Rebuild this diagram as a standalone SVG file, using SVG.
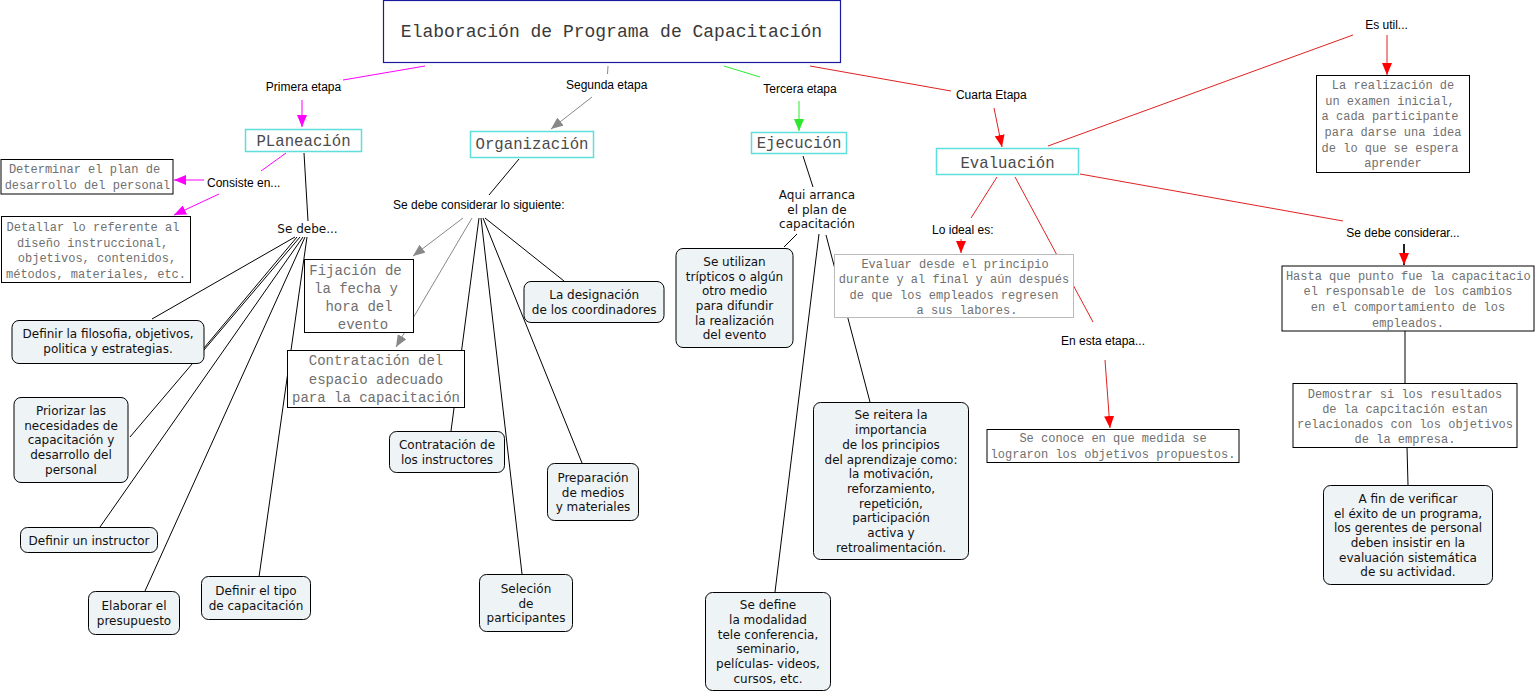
<svg xmlns="http://www.w3.org/2000/svg" width="1537" height="696" viewBox="0 0 1537 696">
<style>
.lbl{font-family:"Liberation Sans",Arial,sans-serif;font-size:12px;fill:#000;text-anchor:middle}
.v{font-family:"DejaVu Sans",Verdana,sans-serif;font-size:12px;fill:#111;text-anchor:middle}
.m{font-family:"Liberation Mono","Courier New",monospace;font-size:12px;fill:#707070;text-anchor:middle}
.m14{font-family:"Liberation Mono","Courier New",monospace;font-size:14px;fill:#707070;text-anchor:middle}
.mh{font-family:"Liberation Mono","Courier New",monospace;font-size:15.7px;fill:#4a4a4a;text-anchor:middle}
.rb{fill:#eef3f6;stroke:#000;stroke-width:1}
.sb{fill:#fff;stroke:#000;stroke-width:1}
.gb{fill:#fff;stroke:#bbb;stroke-width:1}
.cb{fill:#fff;stroke:#5fdede;stroke-width:1.5}
.k{stroke:#000;stroke-width:1;fill:none}
.mg{stroke:#f0f;stroke-width:1;fill:none}
.gr{stroke:#888;stroke-width:1;fill:none}
.gn{stroke:#2ee82e;stroke-width:1;fill:none}
.rd{stroke:#e02020;stroke-width:1;fill:none}
</style>
<defs>
<marker id="am" viewBox="0 0 12 10" refX="12" refY="5" markerWidth="12" markerHeight="10" markerUnits="userSpaceOnUse" orient="auto"><path d="M0,0 L12,5 L0,10 z" fill="#f0f"/></marker>
<marker id="ag" viewBox="0 0 12 10" refX="12" refY="5" markerWidth="12" markerHeight="10" markerUnits="userSpaceOnUse" orient="auto"><path d="M0,0 L12,5 L0,10 z" fill="#888"/></marker>
<marker id="an" viewBox="0 0 12 10" refX="12" refY="5" markerWidth="12" markerHeight="10" markerUnits="userSpaceOnUse" orient="auto"><path d="M0,0 L12,5 L0,10 z" fill="#2ee82e"/></marker>
<marker id="ar" viewBox="0 0 12 10" refX="12" refY="5" markerWidth="12" markerHeight="10" markerUnits="userSpaceOnUse" orient="auto"><path d="M0,0 L12,5 L0,10 z" fill="#f00"/></marker>
</defs>

<g id="connectors">
<path class="mg" d="M425,66 L343,80"/>
<path class="mg" d="M302,100 L302,127" marker-end="url(#am)"/>
<path class="gr" d="M608,66 L607.5,74"/>
<path class="gr" d="M592,97 L551,129" marker-end="url(#ag)"/>
<path class="gn" d="M724,66 L760,77"/>
<path class="gn" d="M799,101 L799,131" marker-end="url(#an)"/>
<path class="rd" d="M810,66 L951,91"/>
<path class="rd" d="M994,108 L1002,147" marker-end="url(#ar)"/>

<path class="mg" d="M286,153 L261,171"/>
<path class="mg" d="M204,180 L174,180" marker-end="url(#am)"/>
<path class="mg" d="M219,194 L174,215" marker-end="url(#am)"/>
<path class="k" d="M304,153 L308,221"/>
<path class="k" d="M295,237 L152,319"/>
<path class="k" d="M297,237 L204,348"/>
<path class="k" d="M300,237 L130,437"/>
<path class="k" d="M303,237 L100,527"/>
<path class="k" d="M305,237 L145,591"/>
<path class="k" d="M307,237 L259,577"/>

<path class="k" d="M519,159 L489,195"/>
<path class="gr" d="M463,218 L413,256" marker-end="url(#ag)"/>
<path class="gr" d="M472,218 L396,347" marker-end="url(#ag)"/>
<path class="k" d="M479,218 L451,431"/>
<path class="k" d="M481,218 L522,574"/>
<path class="k" d="M483,218 L582,463"/>
<path class="k" d="M485,218 L564,281"/>

<path class="k" d="M803,156 L813,187"/>
<path class="k" d="M797,234 L784,247"/>
<path class="k" d="M819,234 L775,592"/>
<path class="k" d="M826,235 L870,402"/>

<path class="rd" d="M997,177 L971,218"/>
<path class="rd" d="M961,239 L961,253" marker-end="url(#ar)"/>
<path class="rd" d="M1015,177 L1093,322"/>
<path class="rd" d="M1105,360 L1110,428" marker-end="url(#ar)"/>
<path class="rd" d="M1048,146 L1353,35"/>
<path class="rd" d="M1387,35 L1387,75" marker-end="url(#ar)"/>
<path class="rd" d="M1080,174 L1343,221"/>
<path d="M1404,244 L1404,265" stroke="#222" stroke-width="2" fill="none" marker-end="url(#ar)"/>
<path class="k" d="M1405,331 L1405,383"/>
<path class="k" d="M1407,447 L1408,485"/>
</g>

<g id="title"><rect x="383.5" y="0.5" width="457" height="62" fill="#fff" stroke="#1a1a9e" stroke-width="1.2"/>
<text x="611.5" y="37" style="font-family:'Liberation Mono','Courier New',monospace;font-size:18px;fill:#3a3a3a;text-anchor:middle">Elaboración de Programa de Capacitación</text></g>

<g id="lbl-primera"><text class="lbl" x="303.5" y="91">Primera etapa</text></g>
<g id="lbl-segunda"><text class="lbl" x="606.7" y="89">Segunda etapa</text></g>
<g id="lbl-tercera"><text class="lbl" x="800" y="93">Tercera etapa</text></g>
<g id="lbl-cuarta"><text class="lbl" x="991.3" y="99">Cuarta Etapa</text></g>

<g id="planeacion"><rect class="cb" x="245.5" y="129.5" width="116" height="22"/><text class="mh" x="303.5" y="146">PLaneación</text></g>
<g id="organizacion"><rect class="cb" x="470.5" y="131.5" width="123" height="26"/><text class="mh" x="532" y="148.5">Organización</text></g>
<g id="ejecucion"><rect class="cb" x="751.5" y="132.5" width="95" height="21"/><text class="mh" x="799" y="148">Ejecución</text></g>
<g id="evaluacion"><rect class="cb" x="936.5" y="148.5" width="142" height="26"/><text class="mh" x="1007.5" y="167.5">Evaluación</text></g>

<g id="lbl-consiste"><text class="lbl" x="243.7" y="187">Consiste en...</text></g>
<g id="determinar"><rect class="sb" x="1" y="159.5" width="172" height="34.5"/>
<text class="m" x="84.5" y="173">Determinar el plan de</text><text class="m" x="87.5" y="188.5">desarrollo del personal</text></g>
<g id="detallar"><rect class="sb" x="1.5" y="216.5" width="189" height="66"/>
<text class="m" x="93" y="231">Detallar lo referente al</text><text class="m" x="92.5" y="246.5">diseño instruccional,</text><text class="m" x="97" y="262">objetivos, contenidos,</text><text class="m" x="96" y="277.5">métodos, materiales, etc.</text></g>
<g id="lbl-sedebe"><text class="v" x="307.5" y="232.5">Se debe...</text></g>

<g id="filosofia"><rect class="rb" x="12" y="320.5" width="192" height="43" rx="7"/>
<text class="v" x="108" y="338">Definir la filosofia, objetivos,</text><text class="v" x="108" y="353">politica y estrategias.</text></g>
<g id="priorizar"><rect class="rb" x="14" y="397.5" width="114" height="85" rx="7"/>
<text class="v" x="71" y="415">Priorizar las</text><text class="v" x="71" y="429.7">necesidades de</text><text class="v" x="71" y="444.4">capacitación y</text><text class="v" x="71" y="459.1">desarrollo del</text><text class="v" x="71" y="473.8">personal</text></g>
<g id="instructor"><rect class="rb" x="20.5" y="527.5" width="137" height="25" rx="7"/><text class="v" x="89" y="544.5">Definir un instructor</text></g>
<g id="presupuesto"><rect class="rb" x="88.5" y="591.5" width="91" height="43" rx="7"/>
<text class="v" x="134" y="610">Elaborar el</text><text class="v" x="134" y="624.7">presupuesto</text></g>
<g id="tipo"><rect class="rb" x="201.5" y="576.5" width="109" height="43" rx="7"/>
<text class="v" x="256" y="595">Definir el tipo</text><text class="v" x="256" y="609.7">de capacitación</text></g>

<g id="lbl-considerar"><text class="lbl" x="478.8" y="209">Se debe considerar lo siguiente:</text></g>
<g id="fijacion"><rect class="sb" x="304.5" y="259.5" width="109" height="73"/>
<text class="m14" x="355.5" y="275">Fijación de</text><text class="m14" x="356" y="293">la fecha y</text><text class="m14" x="359" y="311">hora del</text><text class="m14" x="363" y="329">evento</text></g>
<g id="espacio"><rect class="sb" x="287.5" y="350.5" width="177" height="57"/>
<text class="m14" x="376" y="365">Contratación del</text><text class="m14" x="376" y="383.5">espacio adecuado</text><text class="m14" x="376" y="401.5">para la capacitación</text></g>
<g id="designacion"><rect class="rb" x="524" y="281.5" width="140" height="41" rx="7"/>
<text class="v" x="594.2" y="299.2">La designación</text><text class="v" x="594.2" y="313.9">de los coordinadores</text></g>
<g id="instructores"><rect class="rb" x="389.5" y="431.5" width="115" height="41" rx="7"/>
<text class="v" x="447" y="449.2">Contratación de</text><text class="v" x="447" y="463.9">los instructores</text></g>
<g id="preparacion"><rect class="rb" x="547.5" y="463.5" width="91" height="57" rx="7"/>
<text class="v" x="593" y="481.8">Preparación</text><text class="v" x="593" y="496.5">de medios</text><text class="v" x="593" y="511.2">y materiales</text></g>
<g id="seleccion"><rect class="rb" x="479.5" y="574.5" width="93" height="57" rx="7"/>
<text class="v" x="526" y="592.8">Seleción</text><text class="v" x="526" y="607.5">de</text><text class="v" x="526" y="622.2">participantes</text></g>

<g id="lbl-aqui"><text class="v" x="817" y="199">Aqui arranca</text><text class="v" x="817" y="213.5">el plan de</text><text class="v" x="817" y="228">capacitación</text></g>
<g id="tripticos"><rect class="rb" x="676" y="248.5" width="117" height="99" rx="7"/>
<text class="v" x="734.5" y="265.8">Se utilizan</text><text class="v" x="734.5" y="280.5">trípticos o algún</text><text class="v" x="734.5" y="295.2">otro medio</text><text class="v" x="734.5" y="309.9">para difundir</text><text class="v" x="734.5" y="324.6">la realización</text><text class="v" x="734.5" y="339.3">del evento</text></g>
<g id="reitera"><rect class="rb" x="813.5" y="402.5" width="155" height="157" rx="7"/>
<text class="v" x="891" y="419.4">Se reitera la</text><text class="v" x="891" y="434.1">importancia</text><text class="v" x="891" y="448.8">de los principios</text><text class="v" x="891" y="463.5">del aprendizaje como:</text><text class="v" x="891" y="478.2">la motivación,</text><text class="v" x="891" y="492.9">reforzamiento,</text><text class="v" x="891" y="507.6">repetición,</text><text class="v" x="891" y="522.3">participación</text><text class="v" x="891" y="537">activa y</text><text class="v" x="891" y="551.7">retroalimentación.</text></g>
<g id="modalidad"><rect class="rb" x="705.5" y="592.5" width="125" height="98" rx="7"/>
<text class="v" x="768" y="609.3">Se define</text><text class="v" x="768" y="624">la modalidad</text><text class="v" x="768" y="638.7">tele conferencia,</text><text class="v" x="768" y="653.4">seminario,</text><text class="v" x="768" y="668.1">películas- videos,</text><text class="v" x="768" y="682.8">cursos, etc.</text></g>

<g id="lbl-ideal"><text class="lbl" x="962.8" y="234">Lo ideal es:</text></g>
<g id="evaluar"><rect class="gb" x="834.5" y="254.5" width="239" height="63"/>
<text class="m" x="955" y="267.5">Evaluar desde el principio</text><text class="m" x="954" y="283">durante y al final y aún después</text><text class="m" x="954" y="298.5">de que los empleados regresen</text><text class="m" x="967" y="314">a sus labores.</text></g>
<g id="lbl-enesta"><text class="lbl" x="1103" y="345">En esta etapa...</text></g>
<g id="seconoce"><rect class="sb" x="987" y="429.5" width="252" height="33"/>
<text class="m" x="1113" y="441.5">Se conoce en que medida se</text><text class="m" x="1113" y="457.5">lograron los objetivos propuestos.</text></g>
<g id="lbl-esutil"><text class="lbl" x="1386.5" y="29">Es util...</text></g>
<g id="examen"><rect class="sb" x="1316.5" y="75.5" width="153" height="97"/>
<text class="m" x="1393" y="89">La realización de</text><text class="m" x="1390" y="104.8">un examen inicial,</text><text class="m" x="1390" y="120.4">a cada participante</text><text class="m" x="1393" y="136">para darse una idea</text><text class="m" x="1390" y="151.6">de lo que se espera</text><text class="m" x="1393" y="167.2">aprender</text></g>
<g id="lbl-sedebeconsiderar"><text class="lbl" x="1403" y="236.5">Se debe considerar...</text></g>
<g id="hasta"><rect class="sb" x="1282" y="266" width="252" height="65"/>
<text class="m" x="1408.3" y="279.5">Hasta que punto fue la capacitacio</text><text class="m" x="1408" y="295.2">el responsable de los cambios</text><text class="m" x="1408" y="310.9">en el comportamiento de los</text><text class="m" x="1408" y="326.6">empleados.</text></g>
<g id="demostrar"><rect class="sb" x="1293" y="383.5" width="224" height="64"/>
<text class="m" x="1405" y="397.5">Demostrar si los resultados</text><text class="m" x="1405" y="412.8">de la capcitación estan</text><text class="m" x="1405" y="428.1">relacionados con los objetivos</text><text class="m" x="1405" y="443.4">de la empresa.</text></g>
<g id="afin"><rect class="rb" x="1323.5" y="485.5" width="169" height="99" rx="7"/>
<text class="v" x="1408" y="502.8">A fin de verificar</text><text class="v" x="1408" y="517.5">el éxito de un programa,</text><text class="v" x="1408" y="532.2">los gerentes de personal</text><text class="v" x="1408" y="546.9">deben insistir en la</text><text class="v" x="1408" y="561.6">evaluación sistemática</text><text class="v" x="1408" y="576.3">de su actividad.</text></g>
</svg>
